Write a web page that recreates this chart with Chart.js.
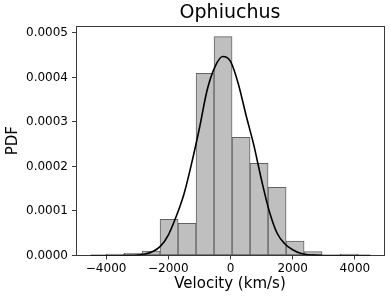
<!DOCTYPE html>
<html>
<head>
<meta charset="utf-8">
<script src="https://cdn.jsdelivr.net/npm/chart.js@4/dist/chart.umd.min.js"></script>
<style>
  html, body { margin: 0; padding: 0; background: #ffffff; }
  canvas { display: block; }
</style>
</head>
<body>
<canvas id="c" width="391" height="299"></canvas>
<script>
// Histogram bin centres (km/s) and PDF heights
const binCenters = [-3713, -3134, -2555, -1976, -1397, -818, -239, 340, 919, 1498, 2077, 2656, 3235, 3814];
const binWidth = 579;
const binPdf = [0.0000030, 0.0000050, 0.0000100, 0.0000813, 0.0000723, 0.0004094, 0.0004917,
                0.0002656, 0.0002072, 0.0001532, 0.0000326, 0.0000088, 0.0000000, 0.0000030];

// Fitted curve
const curveX = [-4500, -4250, -4000, -3750, -3500, -3250, -3000, -2750, -2500, -2250, -2000, -1750,
                -1500, -1250, -1000, -750, -500, -250, 0, 250, 500, 750, 1000, 1250, 1500, 1750,
                2000, 2250, 2500, 2750, 3000, 3250, 3500, 3750, 4000, 4250, 4500];
const curveY = [0, 0, 0, 0.00000002, 0.00000008, 0.0000003, 0.0000011, 0.0000033, 0.000009, 0.000021,
                0.000046, 0.000087, 0.000137, 0.000207, 0.000286, 0.000372, 0.000424, 0.000447,
                0.000436, 0.000386, 0.000315, 0.000248, 0.000169, 0.000099, 0.000050, 0.000026,
                0.000013, 0.0000050, 0.0000017, 0.0000006, 0.00000015, 0.00000004, 0.00000001, 0, 0, 0, 0];

const xTicks = [-4000, -2000, 0, 2000, 4000];
const yTicks = [0, 0.0001, 0.0002, 0.0003, 0.0004, 0.0005];

const FONT = "'DejaVu Sans', 'Liberation Sans', sans-serif";
const AXIS = '#3a3a3a';

const barData = binCenters.map((x, i) => ({ x: x, y: binPdf[i] }));
const lineData = curveX.map((x, i) => ({ x: x, y: curveY[i] }));

new Chart(document.getElementById('c'), {
  type: 'bar',
  data: {
    datasets: [
      {
        type: 'line',
        data: lineData,
        borderColor: '#000000',
        borderWidth: 1.6,
        pointRadius: 0,
        fill: false,
        cubicInterpolationMode: 'monotone',
        order: 0
      },
      {
        type: 'bar',
        data: barData,
        backgroundColor: '#bfbfbf',
        borderColor: '#626262',
        borderWidth: 1,
        borderSkipped: false,
        barPercentage: 1.0,
        categoryPercentage: 1.0,
        order: 1
      }
    ]
  },
  options: {
    responsive: false,
    animation: false,
    devicePixelRatio: 1,
    layout: { padding: { left: 0, right: 7, top: 0, bottom: 0 } },
    plugins: {
      legend: { display: false },
      tooltip: { enabled: false },
      title: {
        display: true,
        text: 'Ophiuchus',
        fullSize: false,
        color: '#000000',
        font: { family: FONT, size: 19, weight: 'normal' },
        padding: { top: 2, bottom: 1.2 }
      }
    },
    scales: {
      x: {
        type: 'linear',
        position: 'bottom',
        min: -4968,
        max: 4936,
        offset: false,
        afterFit: (s) => { s.height = 43.5; },
        afterBuildTicks: (s) => { s.ticks = xTicks.map(v => ({ value: v })); },
        ticks: {
          color: '#000000',
          font: { family: FONT, size: 12 },
          padding: 2,
          maxRotation: 0,
          autoSkip: false,
          callback: (v) => (v < 0 ? '\u2212' + Math.abs(v) : String(v))
        },
        grid: { display: true, drawOnChartArea: false, drawTicks: true, tickLength: 4, tickColor: AXIS, tickWidth: 1, offset: false },
        border: { display: true, color: AXIS, width: 1 },
        title: {
          display: true,
          text: 'Velocity (km/s)',
          color: '#000000',
          font: { family: FONT, size: 15 },
          padding: { top: 0, bottom: 6 }
        }
      },
      y: {
        type: 'linear',
        position: 'left',
        min: 0,
        max: 0.0005157,
        afterFit: (s) => { s.width = 76; },
        afterBuildTicks: (s) => { s.ticks = yTicks.map(v => ({ value: v })); },
        ticks: {
          color: '#000000',
          font: { family: FONT, size: 12 },
          padding: 4,
          autoSkip: false,
          callback: (v) => Number(v).toFixed(4)
        },
        grid: { display: true, drawOnChartArea: false, drawTicks: true, tickLength: 4, tickColor: AXIS, tickWidth: 1 },
        border: { display: true, color: AXIS, width: 1 },
        title: {
          display: true,
          text: 'PDF',
          color: '#000000',
          font: { family: FONT, size: 15 },
          padding: { top: 4, bottom: 0 }
        }
      },
      x2: {
        type: 'linear',
        position: 'top',
        display: true,
        afterFit: (s) => { s.height = 0; },
        ticks: { display: false },
        grid: { display: true, drawOnChartArea: false, drawTicks: false },
        border: { display: true, color: AXIS, width: 1 }
      },
      y2: {
        type: 'linear',
        position: 'right',
        display: true,
        afterFit: (s) => { s.width = 0; },
        ticks: { display: false },
        grid: { display: true, drawOnChartArea: false, drawTicks: false },
        border: { display: true, color: AXIS, width: 1 }
      }
    }
  }
});
</script>
</body>
</html>
